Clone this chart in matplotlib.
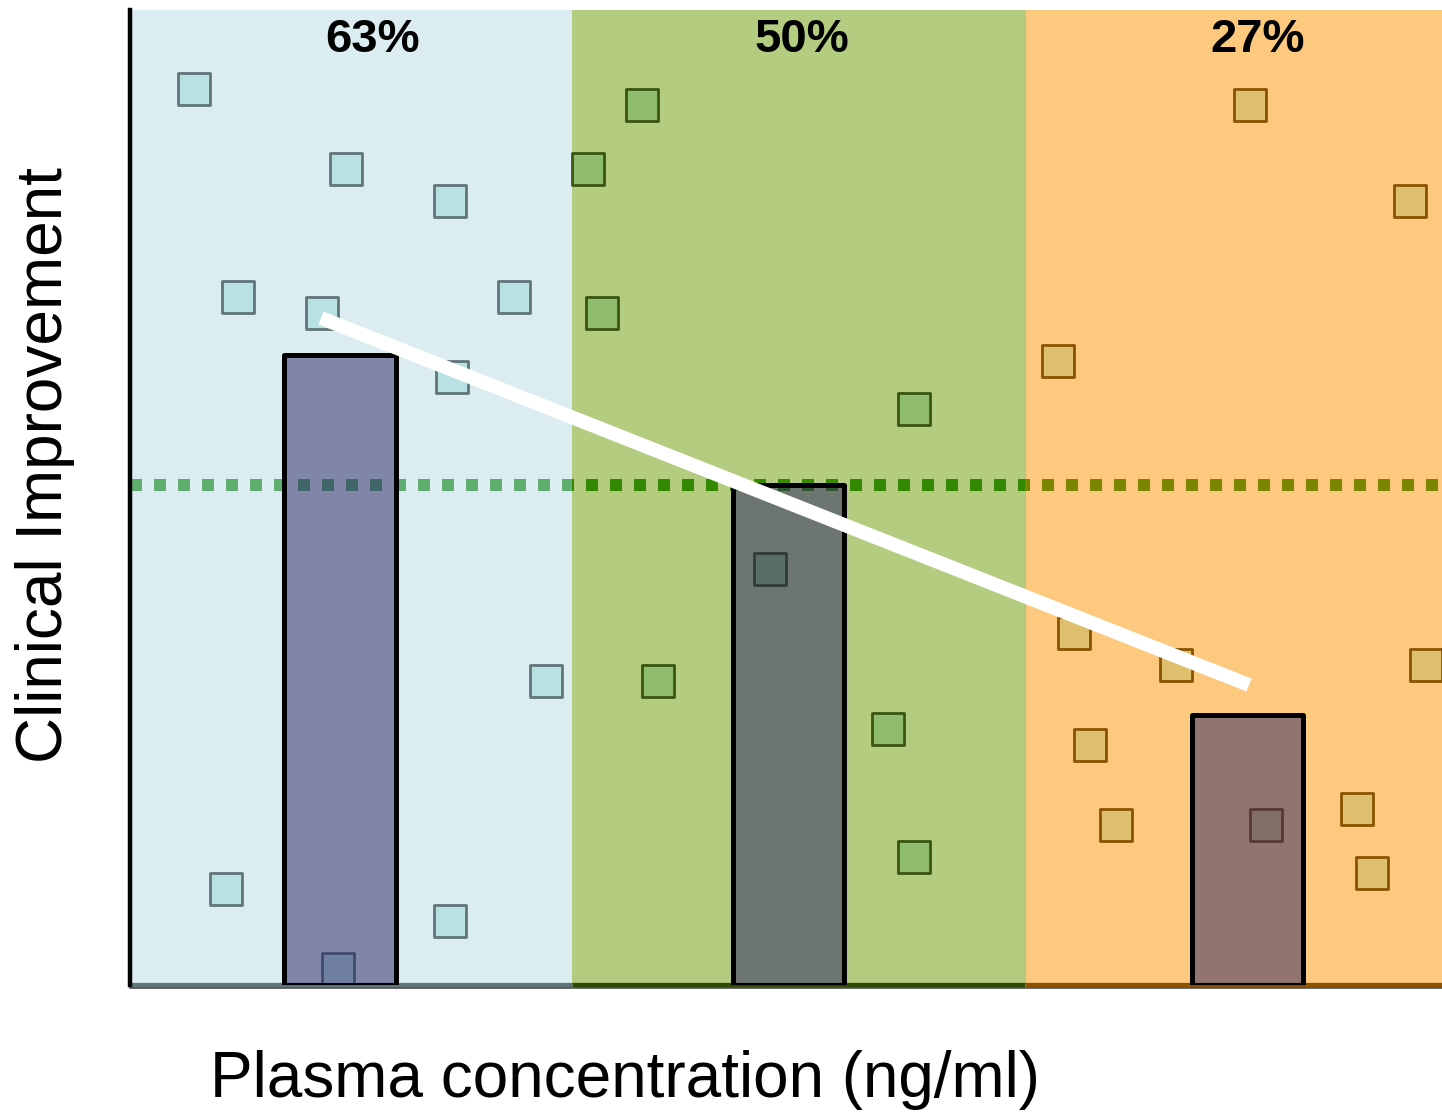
import numpy as np
import matplotlib.pyplot as plt
from matplotlib.patches import Rectangle
from matplotlib.colors import to_rgba

plt.rcParams['font.family'] = ['Liberation Sans', 'DejaVu Sans']

# concentration bands (x in arbitrary plasma units)
band_edges = [0, 44.2, 89.5, 131.2]
band_colors = ['#dbedf0', '#b3cc80', '#fdc97f']
band_lines = ['#5f7579', '#2f4a08', '#8a5200']
pct_labels = ['63%', '50%', '27%']
pct_x = [24.25, 67.2, 112.8]

# mean improvement per band
bar_x = [20.98, 65.83, 111.75]
bar_h = [63, 50, 27]
ref_level = 50

# individual patients
pts_blue_x = [6.4, 21.6, 32.0, 10.8, 19.2, 38.4, 32.2, 41.6, 9.6, 32.0, 20.8]
pts_blue_y = [89.6, 81.6, 78.4, 68.8, 67.2, 68.8, 60.8, 30.4, 9.6, 6.4, 1.6]
pts_green_x = [51.2, 45.8, 47.2, 78.4, 64.0, 52.8, 75.8, 78.4]
pts_green_y = [88.0, 81.6, 67.2, 57.6, 41.6, 30.4, 25.6, 12.8]
pts_orange_x = [112.0, 128.0, 92.8, 94.4, 104.6, 129.6, 96.0, 98.6, 113.6, 122.7, 124.2]
pts_orange_y = [88.0, 78.4, 62.4, 35.2, 32.0, 32.0, 24.0, 16.0, 16.0, 17.6, 11.2]

# trend
trend_x = [19.1, 111.9]
trend_y = [66.7, 30.0]

fig = plt.figure(figsize=(14.42, 11.16), dpi=100)
ax = fig.add_axes([130/1442, 1-985/1116, 1312/1442, 975/1116])
ax.set_xlim(band_edges[0], band_edges[-1])
ax.set_ylim(0, 97.5)

for i in range(3):
    ax.axvspan(band_edges[i], band_edges[i+1], color=band_colors[i], lw=0, zorder=0)
    ax.plot([band_edges[i], band_edges[i+1]], [0, 0], color=band_lines[i], lw=3.8,
             solid_capstyle='butt', clip_on=False, zorder=2)
ax.axvline(band_edges[2], color='#e6b35c', lw=0.8, zorder=1)

pts = [(pts_blue_x, pts_blue_y, '#b9e0e3', '#5f7578'),
       (pts_green_x, pts_green_y, '#8fbb6d', '#3b5510'),
       (pts_orange_x, pts_orange_y, '#dfbe6d', '#8a5300')]
for px, py, fc, ec in pts:
    ax.scatter(px, py, marker='s', s=500, facecolor=fc, edgecolor=ec, linewidths=2.0,
               clip_on=False, zorder=3)

# dotted reference line, tinted per band
dot_colors = ['#5eae70', '#338a00', '#7b8600']
for i in range(3):
    ln = ax.axhline(ref_level, color=dot_colors[i], lw=8.64, dashes=(1, 1),
                    dash_capstyle='butt', zorder=3)
    clip = Rectangle((band_edges[i], 0), band_edges[i+1]-band_edges[i], 100,
                     transform=ax.transData)
    ln.set_clip_path(clip)

ax.bar(bar_x, bar_h, width=11.15, facecolor=to_rgba('#262062', 0.5), edgecolor='black',
       linewidth=3.6, joinstyle='round', zorder=4)

ax.plot(trend_x, trend_y, color='white', lw=10, solid_capstyle='butt', zorder=5)

for x, s in zip(pct_x, pct_labels):
    ax.text(x, 94.5, s, fontsize=34, fontweight='bold', ha='center', va='center', zorder=6)

ax.set_xticks([])
ax.set_yticks([])
for side in ['top', 'right']:
    ax.spines[side].set_visible(False)
ax.spines['left'].set_linewidth(3.2)
ax.spines['left'].set_color('black')
ax.spines['left'].set_zorder(6)
ax.spines['bottom'].set_position(('outward', 2.5))
ax.spines['bottom'].set_linewidth(1.2)
ax.spines['bottom'].set_color('#555555')

fig.text(45/1442, 1-465/1116, 'Clinical Improvement', rotation=90, fontsize=46,
         ha='center', va='center')
fig.text(625/1442, 1-1080/1116, 'Plasma concentration (ng/ml)', fontsize=46,
         ha='center', va='center')

fig.savefig('out.png', dpi=100)
